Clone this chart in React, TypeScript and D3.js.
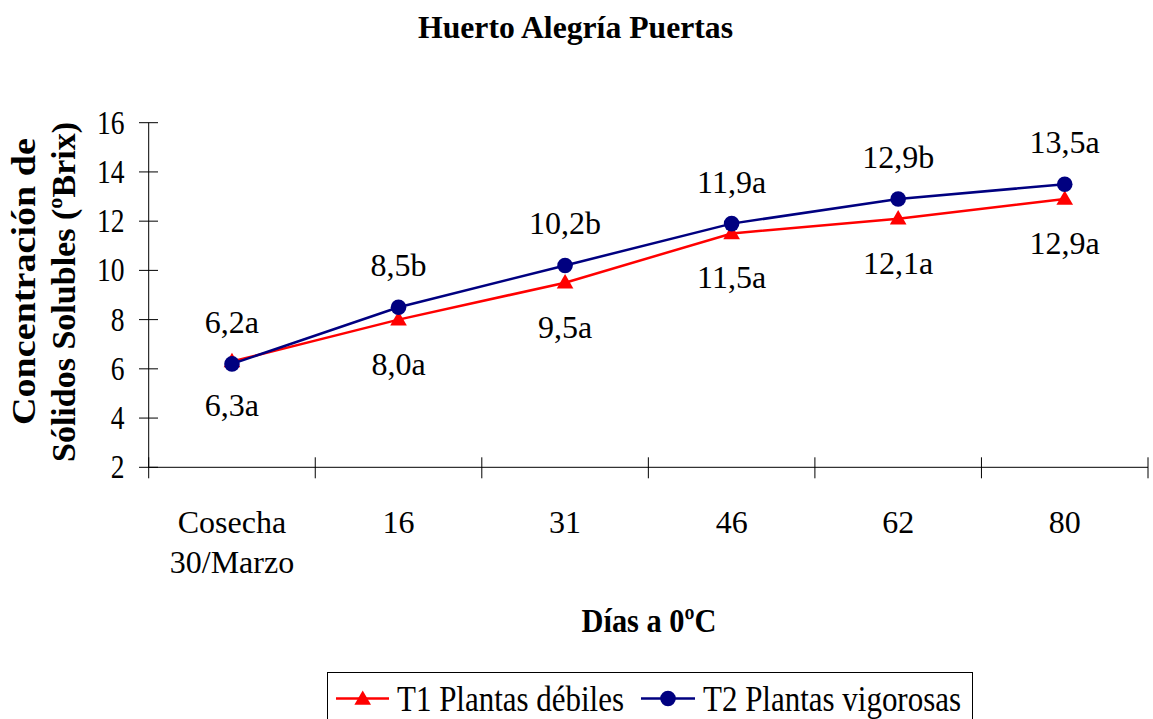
import React from 'react';
import * as d3 from 'd3';

// Días de almacenamiento a 0 ºC
const categories: string[][] = [['Cosecha', '30/Marzo'], ['16'], ['31'], ['46'], ['62'], ['80']];
// Concentración de sólidos solubles (ºBrix)
const t1Values = [6.3, 8.0, 9.5, 11.5, 12.1, 12.9];
const t1Letters = ['a', 'a', 'a', 'a', 'a', 'a'];
const t2Values = [6.2, 8.5, 10.2, 11.9, 12.9, 13.5];
const t2Letters = ['a', 'b', 'b', 'a', 'b', 'a'];
const yTicks = [2, 4, 6, 8, 10, 12, 14, 16];
const seriesNames = ['T1 Plantas débiles', 'T2 Plantas vigorosas'];

const W = 1153;
const H = 719;
const FONT = '"Liberation Serif", "Times New Roman", serif';
const RED = '#ff0000';
const NAVY = '#000080';

const left = 148.7;
const right = 1148;
const top = 122.7;
const bottom = 467.3;

const fmt = (v: number, l: string) => v.toFixed(1).replace('.', ',') + l;

export default function App() {
  const x = d3
    .scaleBand<number>()
    .domain(categories.map((_, i) => i))
    .range([left, right])
    .paddingInner(0)
    .paddingOuter(0);
  const y = d3.scaleLinear().domain([2, 16]).range([bottom, top]);
  const cx = (i: number) => (x(i) as number) + x.bandwidth() / 2;

  const line = d3
    .line<number>()
    .x((_, i) => cx(i))
    .y((d) => y(d));

  const tri = d3.symbol(d3.symbolTriangle, 120)() as string;
  const boundaries = d3.range(categories.length + 1).map((k) => left + k * x.bandwidth());

  return (
    <svg
      width={W}
      height={H}
      style={{ position: 'absolute', left: 0, top: 0, background: '#fff' }}
      fontFamily={FONT}
    >
      <rect width={W} height={H} fill="#fff" />

      {/* título */}
      <text x={575.5} y={38} textAnchor="middle" fontSize={31} fontWeight="bold" textLength={315} lengthAdjust="spacingAndGlyphs">
        Huerto Alegría Puertas
      </text>

      {/* eje Y */}
      <line x1={left} x2={left} y1={top} y2={bottom} stroke="#000" strokeWidth={1} />
      {yTicks.map((t) => (
        <g key={t}>
          <line x1={left - 9.7} x2={left + 9.3} y1={y(t)} y2={y(t)} stroke="#000" strokeWidth={1} />
          <text
            transform={`translate(${124.5},${y(t) + 11}) scale(0.81,1)`}
            textAnchor="end"
            fontSize={34}
          >
            {t}
          </text>
        </g>
      ))}

      {/* eje X */}
      <line x1={left} x2={right} y1={bottom} y2={bottom} stroke="#000" strokeWidth={1} />
      {boundaries.map((b, k) => (
        <line key={k} x1={b} x2={b} y1={bottom - 10} y2={bottom + 11} stroke="#000" strokeWidth={1} />
      ))}
      {categories.map((c, i) => (
        <text key={i} textAnchor="middle" fontSize={32}>
          {c.map((s, j) => (
            <tspan key={j} x={cx(i)} y={533 + j * 40}>
              {s}
            </tspan>
          ))}
        </text>
      ))}

      {/* títulos de ejes */}
      <text x={649} y={632} textAnchor="middle" fontSize={34} fontWeight="bold" textLength={135} lengthAdjust="spacingAndGlyphs">
        Días a 0ºC
      </text>
      <text
        transform="translate(35,281.5) rotate(-90)"
        textAnchor="middle"
        fontSize={34}
        fontWeight="bold"
        textLength={287}
        lengthAdjust="spacingAndGlyphs"
      >
        Concentración de
      </text>
      <text
        transform="translate(75,292) rotate(-90)"
        textAnchor="middle"
        fontSize={34}
        fontWeight="bold"
        textLength={340}
        lengthAdjust="spacingAndGlyphs"
      >
        Sólidos Solubles (ºBrix)
      </text>

      {/* series */}
      <path d={line(t1Values) as string} fill="none" stroke={RED} strokeWidth={2.5} />
      <path d={line(t2Values) as string} fill="none" stroke={NAVY} strokeWidth={2.5} />
      {t1Values.map((v, i) => (
        <path key={i} d={tri} transform={`translate(${cx(i)},${y(v) + 1})`} fill={RED} />
      ))}
      {t2Values.map((v, i) => (
        <circle key={i} cx={cx(i)} cy={y(v)} r={7.8} fill={NAVY} />
      ))}

      {/* etiquetas de datos */}
      {t2Values.map((v, i) => (
        <text key={i} x={cx(i)} y={y(v) - 31} textAnchor="middle" fontSize={32}>
          {fmt(v, t2Letters[i])}
        </text>
      ))}
      {t1Values.map((v, i) => (
        <text key={i} x={cx(i)} y={y(v) + 55} textAnchor="middle" fontSize={32}>
          {fmt(v, t1Letters[i])}
        </text>
      ))}

      {/* leyenda */}
      <rect x={327.5} y={672.5} width={645} height={60} fill="#fff" stroke="#000" strokeWidth={1} />
      <line x1={336} x2={389} y1={698.5} y2={698.5} stroke={RED} strokeWidth={2.5} />
      <path d={tri} transform="translate(362.7,700)" fill={RED} />
      <text x={397} y={711} fontSize={35} textLength={227} lengthAdjust="spacingAndGlyphs">
        {seriesNames[0]}
      </text>
      <line x1={641} x2={695} y1={698.5} y2={698.5} stroke={NAVY} strokeWidth={2.5} />
      <circle cx={668} cy={698.5} r={7.8} fill={NAVY} />
      <text x={703} y={711} fontSize={35} textLength={258} lengthAdjust="spacingAndGlyphs">
        {seriesNames[1]}
      </text>
    </svg>
  );
}
